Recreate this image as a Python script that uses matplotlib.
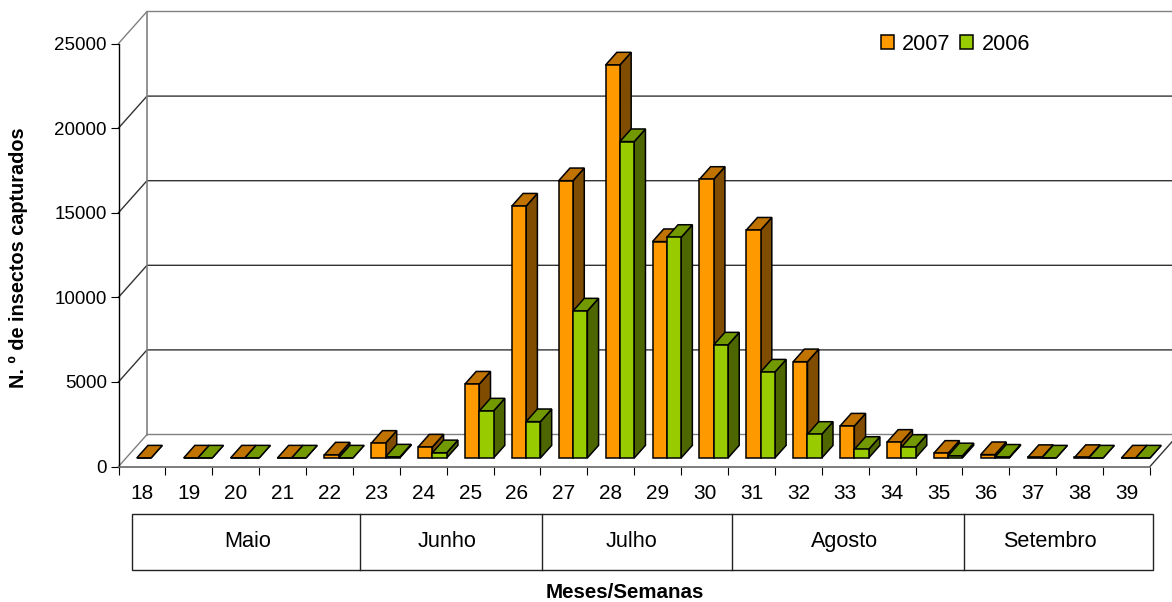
import matplotlib.pyplot as plt
from matplotlib.patches import Patch, Polygon, Rectangle

plt.rcParams['font.family'] = ['Liberation Sans', 'DejaVu Sans']

weeks = list(range(18, 40))
# week 18 has no 2006 bar
values_2007 = [0, 0, 0, 0, 180, 870, 650, 4370, 14890, 16390, 23230,
               12790, 16470, 13470, 5690, 1890, 930, 280, 200, 30, 30, 0]
values_2006 = [None, 0, 0, 0, 0, 60, 310, 2780, 2150, 8690, 18700,
               13040, 6680, 5080, 1400, 510, 630, 130, 50, 0, 0, 0]
months = ['Maio', 'Junho', 'Julho', 'Agosto', 'Setembro']
month_edges = [131.5, 359.5, 541.5, 731.5, 963.5, 1152.5]
month_centers = [248, 447.5, 631.5, 844.5, 1050]

ORANGE = ('#FF9900', '#C07300', '#804D00')  # front, top, side
GREEN = ('#99CC00', '#739900', '#4D6600')
GRID = '#333333'
WALL = '#808080'

# depth of the floor, in data units
DEPTH_X = 28.5 / 46.9
DEPTH_Y = 32 * 25000 / 423
BAR_W = 0.305
BAR_GAP = 0.228
D0, D1 = 0.266, 0.66


def proj(x, y, d):
    return (x + d * DEPTH_X, y + d * DEPTH_Y)


def bar3d(ax, x, v, cols, z):
    x2 = x + BAR_W
    front = [proj(x, 0, D0), proj(x2, 0, D0), proj(x2, v, D0), proj(x, v, D0)]
    top = [proj(x, v, D0), proj(x2, v, D0), proj(x2, v, D1), proj(x, v, D1)]
    side = [proj(x2, 0, D0), proj(x2, 0, D1), proj(x2, v, D1), proj(x2, v, D0)]
    for pts, col in ((side, cols[2]), (top, cols[1]), (front, cols[0])):
        ax.add_patch(Polygon(pts, closed=True, facecolor=col, edgecolor='black',
                             linewidth=1.1, joinstyle='miter', clip_on=False, zorder=z))


fig = plt.figure(figsize=(11.72, 6.02), dpi=100)
ax = fig.add_axes([118.5 / 1172, 1 - 466.5 / 602, (1150 - 118.5) / 1172, 423 / 602])
ax.set_xlim(0, 22)
ax.set_ylim(0, 25000)
ax.patch.set_visible(False)

# back wall, left wall and floor
for g in range(0, 30000, 5000):
    col = WALL if g in (0, 25000) else GRID
    ax.plot([0, DEPTH_X, 23], [g, g + DEPTH_Y, g + DEPTH_Y], color=col, lw=1,
            clip_on=False, zorder=1)
ax.plot([DEPTH_X, DEPTH_X], [DEPTH_Y, 25000 + DEPTH_Y], color=WALL, lw=1.2,
        clip_on=False, zorder=1)
ax.plot([22, 22 + DEPTH_X], [0, DEPTH_Y], color=GRID, lw=1, clip_on=False, zorder=1)

for i, week in enumerate(weeks):
    x = i + BAR_GAP
    bar3d(ax, x, values_2007[i], ORANGE, 3 + i * 0.01)
    if values_2006[i] is not None:
        bar3d(ax, x + BAR_W, values_2006[i], GREEN, 3 + i * 0.01 + 0.005)

for name in ('top', 'right'):
    ax.spines[name].set_visible(False)
ax.spines['left'].set_linewidth(1)
ax.spines['bottom'].set_color('#666666')
ax.spines['bottom'].set_linewidth(1.2)

ax.set_yticks(range(0, 30000, 5000))
ax.tick_params(axis='y', length=5.8, width=0.8, pad=2.5, labelsize=13.5)
ax.set_xticks(range(0, 23))
ax.set_xticklabels([])
ax.tick_params(axis='x', which='major', length=5.8, width=0.8)
ax.set_xticks([i + 0.5 for i in range(22)], minor=True)
ax.set_xticklabels([str(w) for w in weeks], minor=True)
ax.tick_params(axis='x', which='minor', length=0, pad=12.5, labelsize=15)

# overlay in pixels for the month table and axis titles
over = fig.add_axes([0, 0, 1, 1])
over.set_xlim(0, 1172)
over.set_ylim(602, 0)
over.axis('off')
over.add_patch(Rectangle((month_edges[0], 513.5), month_edges[-1] - month_edges[0], 56.5,
                         fill=False, edgecolor='#222222', lw=1))
for edge in month_edges[1:-1]:
    over.plot([edge, edge], [513.5, 570], color='#222222', lw=1)
for name, cx in zip(months, month_centers):
    over.text(cx, 541.5, name, ha='center', va='center', fontsize=15.6)

over.text(624.5, 592, 'Meses/Semanas', ha='center', va='center', fontsize=14.8, fontweight='bold')
over.text(18, 258, 'N. º de insectos capturados', ha='center', va='center',
          rotation=90, fontsize=14.3, fontweight='bold')

handles = [Patch(facecolor=ORANGE[0], edgecolor='black', linewidth=1.1, label='2007'),
           Patch(facecolor=GREEN[0], edgecolor='black', linewidth=1.1, label='2006')]
over.legend(handles=handles, ncol=2, frameon=False, fontsize=15.6, loc='center left',
            bbox_to_anchor=(872 / 1172, 1 - 44 / 602), bbox_transform=fig.transFigure,
            handlelength=0.6, handleheight=0.6, handletextpad=0.38, columnspacing=0.45,
            borderpad=0, borderaxespad=0.4)

fig.savefig('out.png', dpi=100, facecolor='white')
